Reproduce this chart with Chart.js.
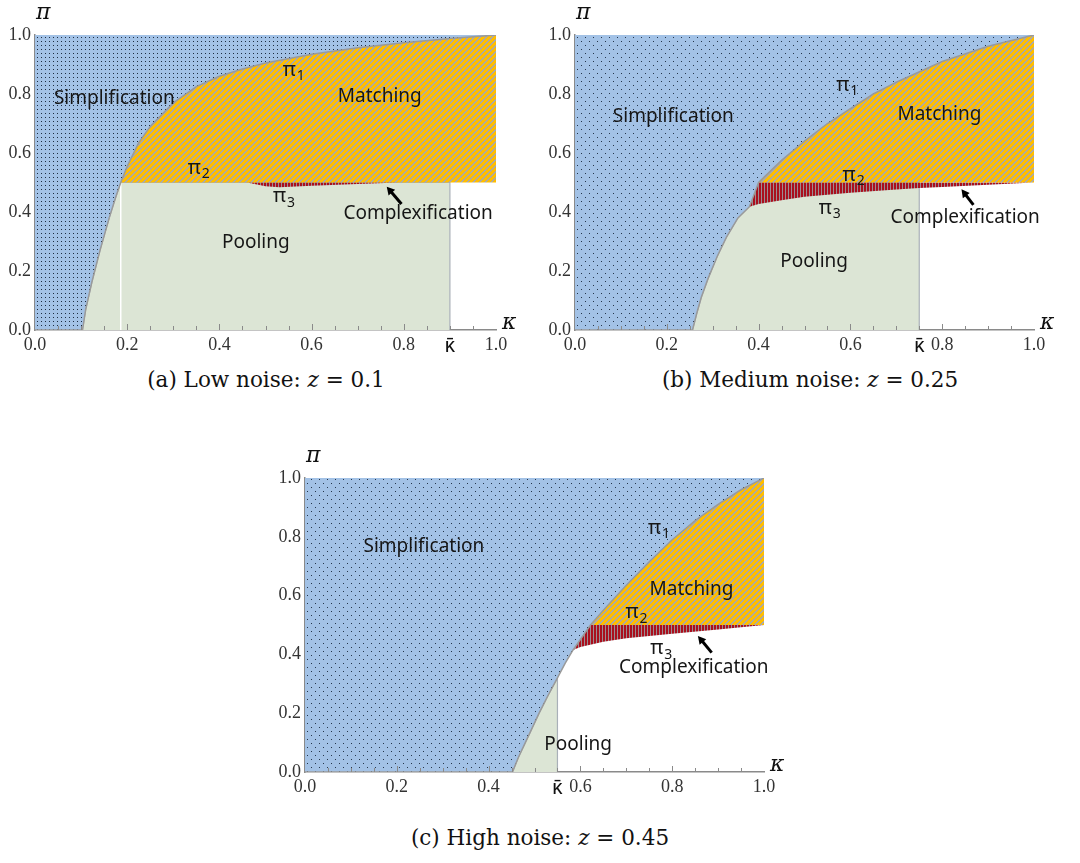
<!DOCTYPE html>
<html>
<head>
<meta charset="utf-8">
<script src="https://cdn.jsdelivr.net/npm/chart.js@4.4.0/dist/chart.umd.min.js"></script>
<style>
  body { margin: 0; background: #fff; width: 1080px; height: 863px; position: relative; overflow: hidden; }
  canvas { position: absolute; }
  .cap { position: absolute; font-family: "DejaVu Serif", serif; font-size: 21.5px; line-height: 24px; color: #111; white-space: nowrap; transform: translateX(-50%); }
</style>
</head>
<body>
<canvas id="low" width="540" height="360" style="left:0;top:0"></canvas>
<canvas id="medium" width="540" height="360" style="left:540px;top:0"></canvas>
<canvas id="high" width="540" height="372" style="left:270px;top:430px"></canvas>
<div class="cap" style="left:266px;top:368px">(a) Low noise: <i>z</i> = 0.1</div>
<div class="cap" style="left:810px;top:368px">(b) Medium noise: <i>z</i> = 0.25</div>
<div class="cap" style="left:540px;top:826px">(c) High noise: <i>z</i> = 0.45</div>
<script>
const axisTicks = [0, 0.2, 0.4, 0.6, 0.8, 1.0];
const pi2 = 0.5;

// (a) low noise, z = 0.1
const lowEdgeK = [0.103, 0.11, 0.123, 0.141, 0.161, 0.175, 0.186];
const lowEdgeP = [0, 0.07, 0.16, 0.27, 0.38, 0.45, 0.5];
const lowPi1K = [0.186, 0.2, 0.225, 0.25, 0.3, 0.35, 0.4, 0.45, 0.5, 0.6, 0.7, 0.8, 0.9, 1.0];
const lowPi1P = [0.5, 0.555, 0.635, 0.69, 0.77, 0.825, 0.86, 0.885, 0.905, 0.935, 0.957, 0.974, 0.988, 1.0];
const lowPi3K = [0.46, 0.5, 0.53, 0.6, 0.7, 0.79];
const lowPi3P = [0.5, 0.487, 0.484, 0.489, 0.495, 0.5];
const lowKbar = 0.9;

// (b) medium noise, z = 0.25
const midEdgeK = [0.256, 0.265, 0.275, 0.29, 0.31, 0.33, 0.355, 0.38];
const midEdgeP = [0, 0.055, 0.11, 0.175, 0.25, 0.315, 0.38, 0.418];
const midPi1K = [0.4, 0.45, 0.5, 0.55, 0.6, 0.65, 0.7, 0.8, 0.9, 1.0];
const midPi1P = [0.5, 0.575, 0.64, 0.7, 0.75, 0.8, 0.84, 0.91, 0.962, 1.0];
const midPi3K = [0.38, 0.4, 0.45, 0.5, 0.6, 0.7, 0.75, 0.8, 0.9, 1.0];
const midPi3P = [0.418, 0.427, 0.44, 0.452, 0.465, 0.476, 0.481, 0.485, 0.492, 0.5];
const midKbar = 0.75;

// (c) high noise, z = 0.45
const highEdgeK = [0.452, 0.465, 0.48, 0.495, 0.51, 0.53, 0.55, 0.567, 0.584];
const highEdgeP = [0, 0.05, 0.1, 0.15, 0.2, 0.262, 0.32, 0.37, 0.415];
const highPi1K = [0.622, 0.65, 0.7, 0.75, 0.8, 0.85, 0.9, 0.95, 1.0];
const highPi1P = [0.5, 0.55, 0.635, 0.715, 0.79, 0.855, 0.91, 0.96, 1.0];
const highPi3K = [0.584, 0.6, 0.65, 0.7, 0.8, 0.9, 1.0];
const highPi3P = [0.415, 0.425, 0.443, 0.455, 0.47, 0.485, 0.5];
const highKbar = 0.55;

const blue = "#a3c2e6";
const poolColor = "#dce5d5";
const lineGray = "#9a9a9a";

Chart.defaults.font.family = "Liberation Serif";
Chart.defaults.font.size = 18;
Chart.defaults.color = "#333";

const toPts = (ks, ps) => ks.map((k, i) => ({ x: k, y: ps[i] }));

const patternCtx = document.createElement("canvas").getContext("2d");
const makePattern = (w, h, paint) => {
  const c = document.createElement("canvas");
  c.width = w;
  c.height = h;
  paint(c.getContext("2d"));
  return patternCtx.createPattern(c, "repeat");
};

const dotsFine = makePattern(4, 4, (g) => {
  g.fillStyle = blue;
  g.fillRect(0, 0, 4, 4);
  g.fillStyle = "#1c2c40";
  g.fillRect(1, 1, 1, 1);
});
const dotsSparse = makePattern(8, 8, (g) => {
  g.fillStyle = blue;
  g.fillRect(0, 0, 8, 8);
  g.fillStyle = "#24354a";
  g.fillRect(1, 1, 1, 1);
  g.fillRect(5, 5, 1, 1);
});
const orangeStripes = makePattern(6, 6, (g) => {
  const shades = ["#a9a9a9", "#a9a9a9", "#ffbd00", "#ffbd00", "#ffbd00", "#ffbd00"];
  for (let x = 0; x < 6; x++) {
    for (let y = 0; y < 6; y++) {
      g.fillStyle = shades[(x + y) % 6];
      g.fillRect(x, y, 1, 1);
    }
  }
});
const redStripes = makePattern(3, 3, (g) => {
  g.fillStyle = "#a9101e";
  g.fillRect(0, 0, 2, 3);
  g.fillStyle = "#9c8c92";
  g.fillRect(2, 0, 1, 3);
});

const regionLabels = {
  id: "regionLabels",
  afterDatasetsDraw(chart, args, opts) {
    const { ctx, scales: { x, y }, chartArea } = chart;
    ctx.save();
    ctx.fillStyle = "#161616";
    ctx.textAlign = "center";
    ctx.textBaseline = "middle";
    opts.items.forEach((it) => {
      const px = x.getPixelForValue(it.k);
      const py = y.getPixelForValue(it.p);
      if (it.sub) {
        ctx.font = "20px 'Noto Sans'";
        const w1 = ctx.measureText("π").width;
        ctx.font = "14px 'Noto Sans'";
        const w2 = ctx.measureText(it.sub).width;
        const left = px - (w1 + w2) / 2;
        ctx.textAlign = "left";
        ctx.font = "20px 'Noto Sans'";
        ctx.fillText("π", left, py);
        ctx.font = "14px 'Noto Sans'";
        ctx.fillText(it.sub, left + w1 + 1, py + 6);
        ctx.textAlign = "center";
      } else {
        ctx.font = "19px 'Noto Sans'";
        ctx.fillText(it.text, px, py);
      }
    });

    // arrow pointing at the thin complexification band
    const a = opts.arrow;
    const hx = x.getPixelForValue(a.to[0]), hy = y.getPixelForValue(a.to[1]);
    const tx = x.getPixelForValue(a.from[0]), ty = y.getPixelForValue(a.from[1]);
    const ang = Math.atan2(hy - ty, hx - tx);
    ctx.strokeStyle = "#000";
    ctx.lineWidth = 3;
    ctx.beginPath();
    ctx.moveTo(tx, ty);
    ctx.lineTo(hx - 6 * Math.cos(ang), hy - 6 * Math.sin(ang));
    ctx.stroke();
    ctx.fillStyle = "#000";
    ctx.beginPath();
    ctx.moveTo(hx, hy);
    ctx.lineTo(hx - 9 * Math.cos(ang - 0.5), hy - 9 * Math.sin(ang - 0.5));
    ctx.lineTo(hx - 9 * Math.cos(ang + 0.5), hy - 9 * Math.sin(ang + 0.5));
    ctx.closePath();
    ctx.fill();

    // small inward ticks along the kappa axis
    ctx.strokeStyle = "#8a8a8a";
    ctx.lineWidth = 1;
    for (let i = 1; i < 20; i++) {
      const px = Math.round(x.getPixelForValue(i * 0.05)) + 0.5;
      ctx.beginPath();
      ctx.moveTo(px, chartArea.bottom);
      ctx.lineTo(px, chartArea.bottom - (i % 4 === 0 ? 6 : 4));
      ctx.stroke();
    }

    // axis names
    ctx.fillStyle = "#111";
    ctx.font = "italic 22px 'DejaVu Serif'";
    ctx.textAlign = "left";
    ctx.fillText("π", chartArea.left + 1, chartArea.top - 22);
    ctx.fillText("κ", chartArea.right + 6, chartArea.bottom - 7);
    ctx.restore();
  },
};

const drawPanel = (id, opt) => {
  const { edgeK, edgeP, pi1K, pi1P, pi3K, pi3P, kbar, dots, pad, labels, arrow, seam } = opt;

  const boundary = [{ x: 0, y: 0 }, ...toPts(edgeK, edgeP)];
  toPts(pi1K, pi1P).forEach((p) => {
    const last = boundary[boundary.length - 1];
    if (p.x !== last.x || p.y !== last.y) boundary.push(p);
  });

  const pooling = toPts(edgeK, edgeP).filter((p) => p.x <= kbar);
  if (kbar > pi1K[0]) pooling.push({ x: pi1K[0], y: pi2 }, { x: kbar, y: pi2 });
  pooling.push({ x: kbar, y: 0 });

  const datasets = [
    {
      label: "Simplification",
      data: boundary,
      fill: "end",
      backgroundColor: dots,
      borderColor: lineGray,
      borderWidth: 1.5,
      order: 1,
    },
    {
      label: "Matching",
      data: toPts(pi1K, pi1P),
      fill: { value: pi2 },
      backgroundColor: orangeStripes,
      borderColor: "rgba(160,160,160,0.6)",
      borderWidth: 1,
      order: 2,
    },
    {
      label: "Complexification",
      data: toPts(pi3K, pi3P),
      fill: { value: pi2 },
      backgroundColor: redStripes,
      borderColor: "rgba(0,0,0,0)",
      borderWidth: 0,
      order: 3,
    },
    {
      label: "Pooling",
      data: pooling,
      fill: "origin",
      backgroundColor: poolColor,
      borderColor: "#a9b0b8",
      borderWidth: 1.2,
      order: 5,
    },
  ];
  if (seam) {
    datasets.push({
      label: "seam",
      data: [{ x: edgeK[edgeK.length - 1], y: 0 }, { x: edgeK[edgeK.length - 1], y: pi2 }],
      fill: false,
      borderColor: "#ffffff",
      borderWidth: 1.5,
      order: 4,
    });
  }

  new Chart(document.getElementById(id), {
    type: "line",
    data: { datasets },
    options: {
      responsive: false,
      animation: false,
      layout: { padding: pad },
      elements: { point: { radius: 0 }, line: { tension: 0 } },
      plugins: {
        legend: { display: false },
        tooltip: { enabled: false },
        regionLabels: { items: labels, arrow },
      },
      scales: {
        x: {
          type: "linear",
          min: 0,
          max: 1,
          afterBuildTicks: (s) => {
            s.ticks = [...axisTicks, kbar].sort((a, b) => a - b).map((v) => ({ value: v }));
          },
          afterFit: (s) => {
            s.height = 30;
          },
          ticks: {
            autoSkip: false,
            maxRotation: 0,
            padding: 4,
            color: (c) => (c.tick && c.tick.value === kbar ? "#111" : "#333"),
            font: (c) =>
              c.tick && c.tick.value === kbar
                ? { family: "Noto Sans", size: 20 }
                : { family: "Liberation Serif", size: 18 },
            callback: (v) => (v === kbar ? "κ̄" : v.toFixed(1)),
          },
          grid: { drawOnChartArea: false, drawTicks: false },
          border: { color: "#8a8a8a", width: 1.5 },
        },
        y: {
          type: "linear",
          min: 0,
          max: 1,
          afterBuildTicks: (s) => {
            s.ticks = axisTicks.map((v) => ({ value: v }));
          },
          afterFit: (s) => {
            s.width = 35;
          },
          ticks: {
            padding: 4,
            font: { family: "Liberation Serif", size: 18 },
            callback: (v) => v.toFixed(1),
          },
          grid: { drawOnChartArea: false, drawTicks: false },
          border: { color: "#8a8a8a", width: 1.5 },
        },
      },
    },
    plugins: [regionLabels],
  });
};

drawPanel("low", {
  edgeK: lowEdgeK, edgeP: lowEdgeP, pi1K: lowPi1K, pi1P: lowPi1P,
  pi3K: lowPi3K, pi3P: lowPi3P, kbar: lowKbar, dots: dotsFine, seam: true,
  pad: { left: 0, top: 35, right: 44, bottom: 0 },
  labels: [
    { text: "Simplification", k: 0.172, p: 0.785 },
    { text: "Matching", k: 0.748, p: 0.79 },
    { text: "Complexification", k: 0.831, p: 0.393 },
    { text: "Pooling", k: 0.479, p: 0.296 },
    { sub: "1", k: 0.56, p: 0.88 },
    { sub: "2", k: 0.354, p: 0.548 },
    { sub: "3", k: 0.539, p: 0.452 },
  ],
  arrow: { from: [0.795, 0.427], to: [0.763, 0.486] },
});

drawPanel("medium", {
  edgeK: midEdgeK, edgeP: midEdgeP, pi1K: midPi1K, pi1P: midPi1P,
  pi3K: midPi3K, pi3P: midPi3P, kbar: midKbar, dots: dotsSparse,
  pad: { left: 0, top: 35, right: 46, bottom: 0 },
  labels: [
    { text: "Simplification", k: 0.214, p: 0.723 },
    { text: "Matching", k: 0.794, p: 0.729 },
    { text: "Complexification", k: 0.85, p: 0.382 },
    { text: "Pooling", k: 0.521, p: 0.232 },
    { sub: "1", k: 0.592, p: 0.83 },
    { sub: "2", k: 0.606, p: 0.525 },
    { sub: "3", k: 0.554, p: 0.412 },
  ],
  arrow: { from: [0.868, 0.424], to: [0.842, 0.477] },
});

drawPanel("high", {
  edgeK: highEdgeK, edgeP: highEdgeP, pi1K: highPi1K, pi1P: highPi1P,
  pi3K: highPi3K, pi3P: highPi3P, kbar: highKbar, dots: dotsSparse,
  pad: { left: 0, top: 48, right: 46, bottom: 0 },
  labels: [
    { text: "Simplification", k: 0.259, p: 0.767 },
    { text: "Matching", k: 0.842, p: 0.619 },
    { text: "Complexification", k: 0.847, p: 0.356 },
    { text: "Pooling", k: 0.595, p: 0.092 },
    { sub: "1", k: 0.77, p: 0.829 },
    { sub: "2", k: 0.721, p: 0.542 },
    { sub: "3", k: 0.775, p: 0.42 },
  ],
  arrow: { from: [0.886, 0.406], to: [0.856, 0.463] },
});
</script>
</body>
</html>
